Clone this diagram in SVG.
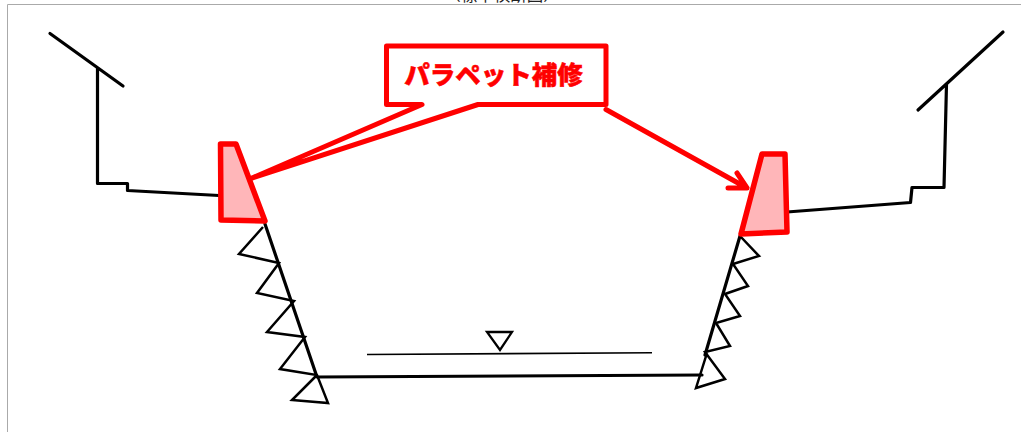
<svg xmlns="http://www.w3.org/2000/svg" width="1021" height="432" viewBox="0 0 1021 432">
<style>
.k{fill:none;stroke:#000;stroke-width:3.200;stroke-linejoin:round;stroke-linecap:round}
.k2{fill:none;stroke:#000;stroke-width:2.500;stroke-linejoin:miter;stroke-linecap:butt}
.r{fill:none;stroke:#f00;stroke-width:5;stroke-linejoin:round;stroke-linecap:round}
.p{fill:#ffb6b9;stroke:#f00;stroke-width:5.500;stroke-linejoin:round}
.t{font-family:"Noto Sans CJK JP","Liberation Sans",sans-serif}
</style>
<rect width="1021" height="432" fill="#fff"/>
<path d="M7.500 432V4.500H1021" fill="none" stroke="#aaa" stroke-width="1"/>
<text class="t" x="502" y="1" font-size="16.500" text-anchor="middle" fill="#222">（標準横断図）</text>
<g id="connectors">
<path class="k" d="M50 33.500L123 86M97.500 68V183.500H127.500V190.500L219 195.500"/>
<path class="k" d="M1003 32L918 110M946.500 84L944 187.500H912L910.500 202.500L787 212"/>
<path class="k" d="M265 224L317 377L702 375M740 236L705 355"/>
<path class="k2" d="M263 227L239 254L279 263L257 293L294 301L267 332L305 337L280 369L317 375L328 403L292 400L316 376"/>
<path class="k2" d="M740 236L759 256L733 264L748 286L725 294L740 316L716 323L730 346L705 352L725 379L696 388L707 353"/>
<path d="M367 354.500L652 352.700" fill="none" stroke="#000" stroke-width="1.600"/>
<path d="M487 332H512L500 350Z" fill="none" stroke="#000" stroke-width="2.300"/>
</g>
<g id="parapet-left"><path class="p" d="M220.500 144H236L265 221L221 220Z"/></g>
<g id="parapet-right"><path class="p" d="M762 154H785L787 232L741 234Z"/></g>
<g id="callout">
<path d="M386 46H606V104.500H478L252 178L422 104.500H386Z" fill="#fff"/>
<path class="r" d="M422 104.500H386.500V46H606V104.500H478L252 178Z"/>
<path class="r" d="M606 109.500L747 188M728 188H747L737 173"/>
<text class="t" x="493.500" y="84" font-size="25.500" font-weight="900" stroke="#f00" stroke-width="0.500" text-anchor="middle" fill="#f00">パラペット補修</text>
</g>
</svg>
